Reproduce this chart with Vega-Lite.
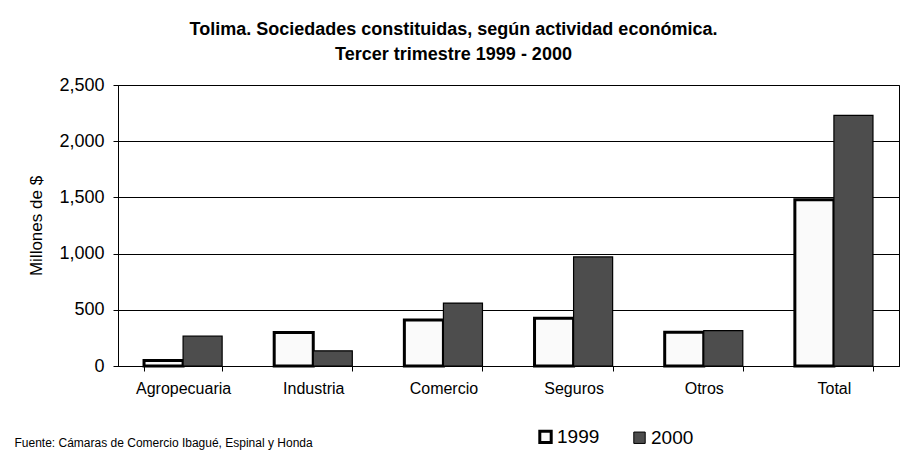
{
  "$schema": "https://vega.github.io/schema/vega-lite/v6.json",
  "width": 781,
  "height": 281,
  "autosize": {"type": "none"},
  "padding": {"left": 118, "top": 85, "right": 5, "bottom": 88},
  "background": "white",
  "config": {
    "font": "Liberation Sans",
    "view": {"stroke": "black", "strokeWidth": 1}
  },
  "title": {
    "text": ["Tolima. Sociedades constituidas, según actividad económica.", "Tercer trimestre 1999 - 2000"],
    "fontSize": 18,
    "fontWeight": "bold",
    "color": "black",
    "anchor": "middle",
    "dx": -55,
    "offset": 12,
    "lineHeight": 25
  },
  "data": {
    "values": [
      {"actividad": "Agropecuaria", "año": "1999", "valor": 50},
      {"actividad": "Agropecuaria", "año": "2000", "valor": 265},
      {"actividad": "Industria", "año": "1999", "valor": 298},
      {"actividad": "Industria", "año": "2000", "valor": 135},
      {"actividad": "Comercio", "año": "1999", "valor": 410},
      {"actividad": "Comercio", "año": "2000", "valor": 560},
      {"actividad": "Seguros", "año": "1999", "valor": 425},
      {"actividad": "Seguros", "año": "2000", "valor": 970},
      {"actividad": "Otros", "año": "1999", "valor": 300},
      {"actividad": "Otros", "año": "2000", "valor": 315},
      {"actividad": "Total", "año": "1999", "valor": 1480},
      {"actividad": "Total", "año": "2000", "valor": 2230}
    ]
  },
  "mark": {"type": "bar", "stroke": "black"},
  "encoding": {
    "x": {
      "field": "actividad",
      "type": "nominal",
      "sort": ["Agropecuaria", "Industria", "Comercio", "Seguros", "Otros", "Total"],
      "scale": {"paddingInner": 0.4, "paddingOuter": 0.2},
      "axis": {
        "title": "Fuente:  Cámaras de Comercio Ibagué, Espinal y Honda",
        "titleFont": "Liberation Sans",
        "titleFontSize": 12,
        "titleFontWeight": "normal",
        "titleColor": "black",
        "titleAnchor": "start",
        "titleAlign": "left",
        "titleBaseline": "alphabetic",
        "titleX": -104,
        "titleY": 80,
        "labelAngle": 0,
        "labelFontSize": 16,
        "labelColor": "black",
        "labelPadding": 9,
        "tickBand": "extent",
        "tickSize": 5,
        "tickColor": "black",
        "domainColor": "black"
      }
    },
    "xOffset": {"field": "año", "type": "nominal", "scale": {"paddingInner": 0, "paddingOuter": 0}},
    "y": {
      "field": "valor",
      "type": "quantitative",
      "scale": {"domain": [0, 2500]},
      "axis": {
        "values": [0, 500, 1000, 1500, 2000, 2500],
        "format": ",.0f",
        "grid": true,
        "gridColor": "black",
        "gridOpacity": 1,
        "gridWidth": 1,
        "domainColor": "black",
        "tickColor": "black",
        "tickSize": 5,
        "labelFontSize": 18,
        "labelColor": "black",
        "labelPadding": 9,
        "title": "Millones de $",
        "titleFontSize": 17,
        "titleFontWeight": "normal",
        "titleColor": "black",
        "titlePadding": 13
      }
    },
    "fill": {
      "field": "año",
      "type": "nominal",
      "scale": {"domain": ["1999", "2000"], "range": ["#fafafa", "#4d4d4d"]},
      "legend": {
        "title": null,
        "orient": "none",
        "legendX": 418,
        "legendY": 342,
        "direction": "horizontal",
        "symbolType": "square",
        "symbolSize": 130,
        "symbolStrokeColor": "black",
        "symbolOpacity": 1,
        "labelFontSize": 19,
        "labelColor": "black",
        "labelOffset": 2,
        "columnPadding": 30,
        "encode": {
          "symbols": {"update": {"strokeWidth": {"signal": "datum.value == '1999' ? 3 : 1"}, "stroke": {"value": "black"}}}
        }
      }
    },
    "strokeWidth": {
      "condition": {"test": "datum['año'] == '1999'", "value": 3},
      "value": 1.2
    }
  }
}
